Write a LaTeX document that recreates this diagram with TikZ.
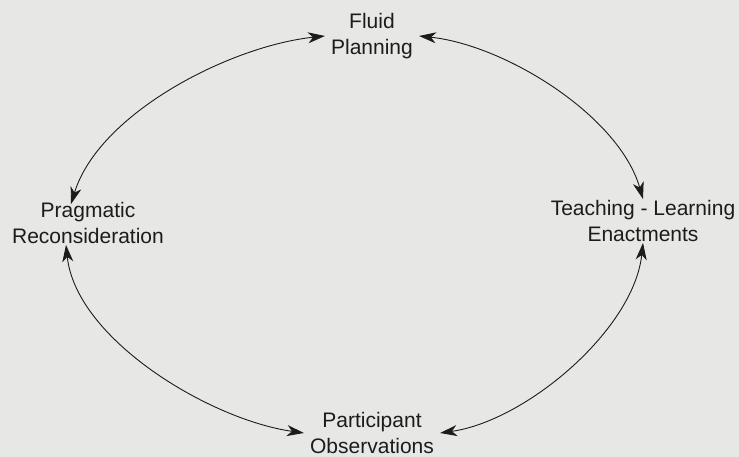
\documentclass[tikz,border=0pt]{standalone}
\usepackage{fontspec}
\setmainfont{Liberation Sans}
\usepackage{tikz}
\usetikzlibrary{arrows.meta, positioning}
\definecolor{paper}{HTML}{E7E7E5}
\definecolor{ink}{HTML}{1C1C1C}

\begin{document}
\begin{tikzpicture}[
  x=1pt, y=1pt,
  stage/.style={align=center, inner xsep=6pt, inner ysep=1pt, font=\fontsize{21}{26}\selectfont, text=ink},
  arrow/.style={{Stealth[length=17pt, width=11pt, inset=5pt]}-{Stealth[length=17pt, width=11pt, inset=5pt]}, draw=ink, line width=0.9pt, looseness=0.8}
]
\fill[paper] (0,0) rectangle (739,457);
\useasboundingbox (0,0) rectangle (739,457);
\node[stage] (plan) at (372,421) {Fluid\\Planning};
\node[stage] (prag) at (88,234) {Pragmatic\\Reconsideration};
\node[stage] (teach) at (643,236) {Teaching - Learning\\Enactments};
\node[stage] (obs) at (372,24) {Participant\\Observations};

\draw[arrow] (plan.west) to[out=186, in=73] ([xshift=-17pt, yshift=-3pt]prag.north);
\draw[arrow] (plan.east) to[out=-6, in=106] (teach.north);
\draw[arrow] ([xshift=-22pt]prag.south) to[out=-84, in=172] (obs.west);
\draw[arrow] (teach.south) to[out=-96, in=8] (obs.east);
\end{tikzpicture}
\end{document}
